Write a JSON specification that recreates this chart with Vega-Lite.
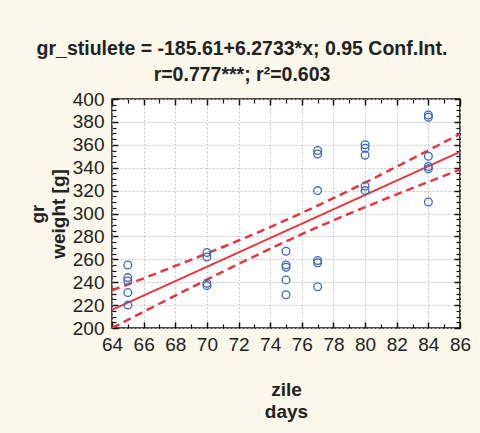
{
  "$schema": "https://vega.github.io/schema/vega-lite/v6.json",
  "width": 348,
  "height": 229,
  "autosize": "none",
  "padding": {"left": 112, "top": 99, "right": 20, "bottom": 105},
  "background": "#FCF7EB",
  "config": {
    "font": "Liberation Sans",
    "view": {"fill": "white", "stroke": "#111", "strokeWidth": 1.5},
    "axis": {"labelFont": "Liberation Sans", "titleFont": "Liberation Sans", "labelColor": "#222", "titleColor": "#222"}
  },
  "title": {
    "text": ["gr_stiulete = -185.61+6.2733*x; 0.95 Conf.Int.", "r=0.777***; r²=0.603"],
    "fontSize": 19.5,
    "fontWeight": "bold",
    "color": "#222",
    "anchor": "middle",
    "frame": "group",
    "dx": -44,
    "offset": 5,
    "lineHeight": 26
  },
  "datasets": {
    "pts": [
      {"days": 65, "weight": 255}, {"days": 65, "weight": 244}, {"days": 65, "weight": 241}, {"days": 65, "weight": 231}, {"days": 65, "weight": 220},
      {"days": 70, "weight": 266}, {"days": 70, "weight": 262}, {"days": 70, "weight": 239}, {"days": 70, "weight": 237},
      {"days": 75, "weight": 267}, {"days": 75, "weight": 255}, {"days": 75, "weight": 253}, {"days": 75, "weight": 242}, {"days": 75, "weight": 229},
      {"days": 77, "weight": 355}, {"days": 77, "weight": 352}, {"days": 77, "weight": 320}, {"days": 77, "weight": 259}, {"days": 77, "weight": 257}, {"days": 77, "weight": 236},
      {"days": 80, "weight": 360}, {"days": 80, "weight": 357}, {"days": 80, "weight": 351}, {"days": 80, "weight": 324}, {"days": 80, "weight": 320},
      {"days": 84, "weight": 386}, {"days": 84, "weight": 384}, {"days": 84, "weight": 350}, {"days": 84, "weight": 341}, {"days": 84, "weight": 339}, {"days": 84, "weight": 310}
    ],
    "fit": [
      {"days": 64, "weight": 215.88}, {"days": 86, "weight": 353.89}
    ],
    "ci": [
      {"days": 64, "bound": "lower", "weight": 200.0}, {"days": 66, "bound": "lower", "weight": 214.2}, {"days": 68, "bound": "lower", "weight": 228.3},
      {"days": 70, "bound": "lower", "weight": 242.2}, {"days": 72, "bound": "lower", "weight": 255.9}, {"days": 74, "bound": "lower", "weight": 269.2},
      {"days": 76, "bound": "lower", "weight": 281.9}, {"days": 78, "bound": "lower", "weight": 294.0}, {"days": 80, "bound": "lower", "weight": 305.6},
      {"days": 82, "bound": "lower", "weight": 316.7}, {"days": 84, "bound": "lower", "weight": 327.6}, {"days": 86, "bound": "lower", "weight": 338.3},
      {"days": 64, "bound": "upper", "weight": 232.9}, {"days": 66, "bound": "upper", "weight": 243.4}, {"days": 68, "bound": "upper", "weight": 254.2},
      {"days": 70, "bound": "upper", "weight": 265.1}, {"days": 72, "bound": "upper", "weight": 276.4}, {"days": 74, "bound": "upper", "weight": 288.1},
      {"days": 76, "bound": "upper", "weight": 300.5}, {"days": 78, "bound": "upper", "weight": 313.4}, {"days": 80, "bound": "upper", "weight": 326.9},
      {"days": 82, "bound": "upper", "weight": 340.9}, {"days": 84, "bound": "upper", "weight": 355.1}, {"days": 86, "bound": "upper", "weight": 369.5}
    ]
  },
  "resolve": {"axis": {"x": "independent", "y": "independent"}},
  "layer": [
    {
      "data": {"name": "pts"},
      "mark": {"type": "point", "opacity": 0},
      "encoding": {
        "x": {"field": "days", "type": "quantitative", "scale": {"domain": [64, 86], "nice": false, "zero": false},
          "axis": {"orient": "bottom", "values": [64, 66, 68, 70, 72, 74, 76, 78, 80, 82, 84, 86], "grid": true, "gridDash": [2, 2], "gridColor": "#c4c4c4", "gridWidth": 1,
            "ticks": false, "domain": false, "labelFontSize": 19, "labelPadding": 7, "labelFlush": false,
            "title": ["zile", "days"], "titleFontSize": 19, "titleFontWeight": "bold", "titlePadding": 26, "titleLineHeight": 22}},
        "y": {"field": "weight", "type": "quantitative", "scale": {"domain": [200, 400], "nice": false, "zero": false},
          "axis": {"orient": "left", "values": [200, 220, 240, 260, 280, 300, 320, 340, 360, 380, 400], "grid": true, "gridDash": [2, 2], "gridColor": "#c4c4c4", "gridWidth": 1,
            "ticks": false, "domain": false, "labelFontSize": 19, "labelPadding": 8, "labelFlush": false,
            "title": ["gr", "weight [g]"], "titleFontSize": 19, "titleFontWeight": "bold", "titlePadding": 4, "titleLineHeight": 21}}
      }
    },
    {
      "data": {"name": "pts"},
      "mark": {"type": "point", "opacity": 0},
      "encoding": {
        "x": {"field": "days", "type": "quantitative", "axis": {"orient": "bottom", "values": [64, 66, 68, 70, 72, 74, 76, 78, 80, 82, 84, 86], "tickSize": -6, "tickWidth": 1.5, "tickColor": "#111", "labels": false, "grid": false, "domain": false, "title": null}},
        "y": {"field": "weight", "type": "quantitative", "axis": {"orient": "left", "values": [200, 220, 240, 260, 280, 300, 320, 340, 360, 380, 400], "tickSize": -6, "tickWidth": 1.5, "tickColor": "#111", "labels": false, "grid": false, "domain": false, "title": null}}
      }
    },
    {
      "data": {"name": "pts"},
      "mark": {"type": "point", "opacity": 0},
      "encoding": {
        "x": {"field": "days", "type": "quantitative", "axis": {"orient": "top", "values": [64, 66, 68, 70, 72, 74, 76, 78, 80, 82, 84, 86], "tickSize": -6, "tickWidth": 1.5, "tickColor": "#111", "labels": false, "grid": false, "domain": false, "title": null}},
        "y": {"field": "weight", "type": "quantitative", "axis": {"orient": "right", "values": [200, 220, 240, 260, 280, 300, 320, 340, 360, 380, 400], "tickSize": -6, "tickWidth": 1.5, "tickColor": "#111", "labels": false, "grid": false, "domain": false, "title": null}}
      }
    },
    {
      "data": {"name": "pts"},
      "mark": {"type": "point", "opacity": 0},
      "encoding": {
        "x": {"field": "days", "type": "quantitative", "axis": {"orient": "bottom", "values": [65, 67, 69, 71, 73, 75, 77, 79, 81, 83, 85], "tickSize": -4, "tickWidth": 1.2, "tickColor": "#111", "labels": false, "grid": false, "domain": false, "title": null}},
        "y": {"field": "weight", "type": "quantitative", "axis": {"orient": "left", "values": [205, 210, 215, 225, 230, 235, 245, 250, 255, 265, 270, 275, 285, 290, 295, 305, 310, 315, 325, 330, 335, 345, 350, 355, 365, 370, 375, 385, 390, 395], "tickSize": -4, "tickWidth": 1.2, "tickColor": "#111", "labels": false, "grid": false, "domain": false, "title": null}}
      }
    },
    {
      "data": {"name": "pts"},
      "mark": {"type": "point", "opacity": 0},
      "encoding": {
        "x": {"field": "days", "type": "quantitative", "axis": {"orient": "top", "values": [65, 67, 69, 71, 73, 75, 77, 79, 81, 83, 85], "tickSize": -4, "tickWidth": 1.2, "tickColor": "#111", "labels": false, "grid": false, "domain": false, "title": null}},
        "y": {"field": "weight", "type": "quantitative", "axis": {"orient": "right", "values": [205, 210, 215, 225, 230, 235, 245, 250, 255, 265, 270, 275, 285, 290, 295, 305, 310, 315, 325, 330, 335, 345, 350, 355, 365, 370, 375, 385, 390, 395], "tickSize": -4, "tickWidth": 1.2, "tickColor": "#111", "labels": false, "grid": false, "domain": false, "title": null}}
      }
    },
    {
      "data": {"name": "ci"},
      "mark": {"type": "line", "color": "#E8363F", "strokeWidth": 2.5, "strokeDash": [8, 5], "interpolate": "monotone", "clip": true},
      "encoding": {
        "x": {"field": "days", "type": "quantitative", "axis": null},
        "y": {"field": "weight", "type": "quantitative", "axis": null},
        "detail": {"field": "bound"}
      }
    },
    {
      "data": {"name": "fit"},
      "mark": {"type": "line", "color": "#E8363F", "strokeWidth": 2},
      "encoding": {
        "x": {"field": "days", "type": "quantitative", "axis": null},
        "y": {"field": "weight", "type": "quantitative", "axis": null}
      }
    },
    {
      "data": {"name": "pts"},
      "mark": {"type": "point", "shape": "circle", "filled": false, "color": "#3A67BE", "size": 60, "strokeWidth": 1.3, "opacity": 1},
      "encoding": {
        "x": {"field": "days", "type": "quantitative", "axis": null},
        "y": {"field": "weight", "type": "quantitative", "axis": null}
      }
    }
  ]
}
